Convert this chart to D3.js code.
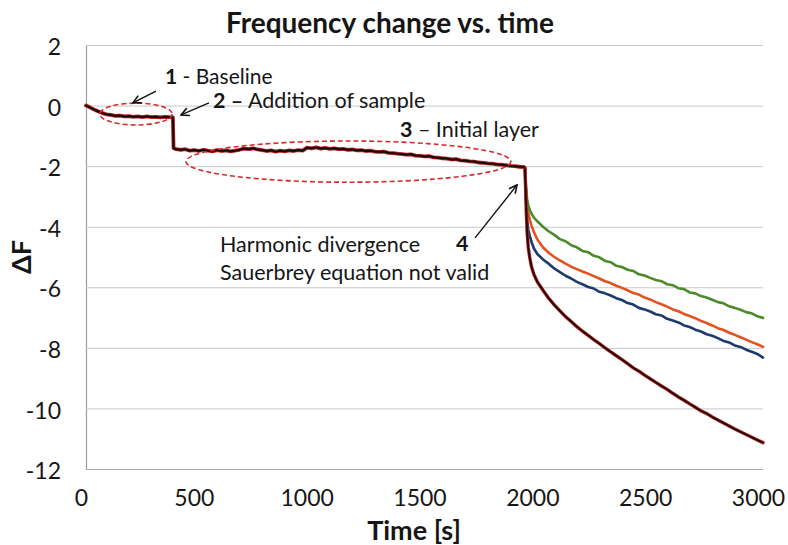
<!DOCTYPE html>
<html>
<head>
<meta charset="utf-8">
<script src="https://cdn.jsdelivr.net/npm/d3@7"></script>
<style>
  body { margin: 0; background: #fff; }
  text { font-family: Lato, "Open Sans", sans-serif; fill: #161616; }
</style>
</head>
<body>
<svg id="chart" width="788" height="545"></svg>
<script>
// Axis ticks
const xTicks = [0, 500, 1000, 1500, 2000, 2500, 3000];
const yTicks = [2, 0, -2, -4, -6, -8, -10, -12];

// Common trace (all harmonics overlap) up to the divergence
const tMix = [0, 15, 30, 50, 70, 90, 110, 130, 150, 170, 190, 210, 230, 250, 270, 290, 310, 330, 350, 370, 385, 388,
  400, 420, 440, 460, 480, 500, 520, 540, 560, 580, 600, 620, 640, 660, 680, 700, 720, 740, 760, 780, 800,
  820, 840, 860, 880, 900, 920, 940, 960, 980, 1000, 1020, 1040, 1060, 1080, 1100, 1120, 1140, 1160, 1180, 1200,
  1220, 1240, 1260, 1280, 1300, 1320, 1340, 1360, 1380, 1400, 1420, 1440, 1460, 1480, 1500, 1520, 1540, 1560, 1580, 1600,
  1620, 1640, 1660, 1680, 1700, 1720, 1740, 1760, 1780, 1800, 1820, 1840, 1860, 1880, 1900, 1920, 1940];
const dfMix = [0, -0.05, -0.11, -0.18, -0.24, -0.29, -0.31, -0.34, -0.33, -0.36, -0.35, -0.37, -0.36, -0.38, -0.36, -0.38, -0.37, -0.39, -0.37, -0.38, -0.39, -1.41,
  -1.44, -1.46, -1.44, -1.49, -1.47, -1.50, -1.46, -1.49, -1.51, -1.47, -1.50, -1.48, -1.51, -1.49, -1.46, -1.42, -1.44, -1.41, -1.45, -1.47, -1.50,
  -1.48, -1.52, -1.49, -1.51, -1.48, -1.50, -1.47, -1.49, -1.39, -1.41, -1.38, -1.42, -1.40, -1.43, -1.41, -1.44, -1.43, -1.46, -1.45, -1.48,
  -1.47, -1.50, -1.49, -1.52, -1.53, -1.52, -1.56, -1.57, -1.59, -1.60, -1.62, -1.61, -1.65, -1.66, -1.68, -1.67, -1.71, -1.72, -1.74, -1.75,
  -1.78, -1.77, -1.81, -1.82, -1.84, -1.85, -1.88, -1.89, -1.91, -1.92, -1.94, -1.95, -1.97, -1.99, -2.00, -2.02, -2.03];

// After the divergence: one trace per harmonic
const tSplit = [1940, 1945, 1948, 1951, 1955, 1960, 1967, 1975, 1985, 2000, 2025, 2050, 2075, 2100, 2125, 2150, 2175, 2200,
  2225, 2250, 2275, 2300, 2325, 2350, 2375, 2400, 2425, 2450, 2475, 2500, 2525, 2550, 2575, 2600, 2625, 2650, 2675, 2700,
  2725, 2750, 2775, 2800, 2825, 2850, 2875, 2900, 2925, 2950, 2975, 3000];
const dfGreen = [-2.03, -2.05, -2.45, -2.80, -3.10, -3.30, -3.45, -3.58, -3.70, -3.82, -4.00, -4.15, -4.27, -4.41, -4.48, -4.61, -4.68, -4.80,
  -4.84, -4.96, -5.01, -5.13, -5.17, -5.29, -5.33, -5.42, -5.46, -5.57, -5.61, -5.69, -5.76, -5.80, -5.90, -5.93, -6.03, -6.06, -6.17, -6.20,
  -6.29, -6.34, -6.41, -6.49, -6.53, -6.63, -6.68, -6.74, -6.82, -6.86, -6.96, -7.01];
const dfOrange = [-2.03, -2.05, -2.60, -3.00, -3.30, -3.55, -3.78, -3.98, -4.18, -4.42, -4.68, -4.86, -5.00, -5.11, -5.22, -5.32, -5.40, -5.48,
  -5.55, -5.63, -5.71, -5.80, -5.86, -5.95, -6.02, -6.10, -6.19, -6.24, -6.34, -6.40, -6.49, -6.56, -6.64, -6.73, -6.79, -6.88, -6.95, -7.02,
  -7.11, -7.18, -7.26, -7.35, -7.41, -7.50, -7.57, -7.65, -7.73, -7.81, -7.88, -7.97];
const dfBlue = [-2.03, -2.05, -2.70, -3.30, -3.80, -4.10, -4.32, -4.52, -4.72, -4.90, -5.08, -5.22, -5.38, -5.50, -5.62, -5.71, -5.82, -5.90,
  -5.99, -6.04, -6.15, -6.20, -6.27, -6.36, -6.42, -6.52, -6.57, -6.68, -6.73, -6.80, -6.89, -6.93, -7.04, -7.10, -7.16, -7.26, -7.31, -7.40,
  -7.46, -7.55, -7.60, -7.68, -7.77, -7.82, -7.92, -7.97, -8.06, -8.13, -8.20, -8.32];
const dfBlack = [-2.03, -2.05, -2.70, -3.50, -4.20, -4.70, -5.05, -5.35, -5.58, -5.82, -6.10, -6.36, -6.58, -6.78, -6.97, -7.13, -7.30, -7.45,
  -7.59, -7.73, -7.86, -8.00, -8.13, -8.26, -8.39, -8.52, -8.66, -8.77, -8.90, -9.02, -9.14, -9.26, -9.37, -9.50, -9.62, -9.73, -9.85, -9.96,
  -10.08, -10.17, -10.28, -10.38, -10.48, -10.58, -10.68, -10.77, -10.86, -10.95, -11.04, -11.13];

const svg = d3.select("#chart");
const x = d3.scaleLinear().domain([0, 3000]).range([86, 763]);
const y = d3.scaleLinear().domain([-12, 2]).range([469, 45]);

// Horizontal grid + left axis
const yAxis = svg.append("g")
  .attr("transform", `translate(${x(0)},0)`)
  .call(d3.axisLeft(y).tickValues(yTicks).tickSize(-(x(3000) - x(0))).tickPadding(25).tickFormat(d => String(d)));
yAxis.select(".domain").attr("stroke", "#9a9ea4").attr("stroke-width", 1.2);
yAxis.selectAll(".tick line").attr("stroke", d => d === -12 ? "#a9adb2" : "#c3c9cd").attr("stroke-width", 1);
yAxis.selectAll(".tick text").attr("font-size", 23).attr("dy", "0.42em").attr("fill", "#161616");

// Bottom axis labels
const xAxis = svg.append("g")
  .attr("transform", `translate(0,${y(-12)})`)
  .call(d3.axisBottom(x).tickValues(xTicks).tickSize(0).tickPadding(21).tickFormat(d => String(d)));
xAxis.select(".domain").remove();
xAxis.selectAll(".tick text").attr("font-size", 23).attr("dx", -5).attr("fill", "#161616");

// Data traces
const line = d3.line().x(d => x(d[0])).y(d => y(d[1]));
const pairs = (ts, vs) => ts.map((t, i) => [t, vs[i]]);

const plot = svg.append("g");
function trace(data, color, width) {
  plot.append("path").datum(data).attr("d", line)
    .attr("fill", "none").attr("stroke", color).attr("stroke-width", width)
    .attr("stroke-linejoin", "round").attr("stroke-linecap", "round");
}
trace(pairs(tSplit, dfOrange), "#e4521e", 2.6);
trace(pairs(tSplit, dfBlue), "#1d3a70", 2.6);
trace(pairs(tSplit, dfGreen), "#4d8a2c", 2.6);
trace(pairs(tSplit, dfBlack), "#b22222", 3.4);
trace(pairs(tSplit, dfBlack), "#1a0606", 1.7);
trace(pairs(tMix, dfMix), "#b22222", 3.8);
trace(pairs(tMix, dfMix), "#1a0606", 2.0);

// Annotations (anchored in data units)
const ann = svg.append("g");
const ellipses = [
  { t: 222, f: -0.28, dt: 160, df: 0.36 },
  { t: 1163, f: -1.85, dt: 720, df: 0.68 }
];
ellipses.forEach(e => {
  ann.append("ellipse")
    .attr("cx", x(e.t)).attr("cy", y(e.f))
    .attr("rx", x(e.t + e.dt) - x(e.t)).attr("ry", y(e.f - e.df) - y(e.f))
    .attr("fill", "none").attr("stroke", "#d42a2a").attr("stroke-width", 1.6)
    .attr("stroke-dasharray", "5,3");
});

svg.append("defs").append("marker")
  .attr("id", "head").attr("viewBox", "0 0 10 10").attr("refX", 9).attr("refY", 5)
  .attr("markerWidth", 10).attr("markerHeight", 10).attr("markerUnits", "userSpaceOnUse")
  .attr("orient", "auto")
  .append("path").attr("d", "M1,1 L9,5 L1,9").attr("fill", "none")
  .attr("stroke", "#111").attr("stroke-width", 1.6);

const arrows = [
  { t0: 310, f0: 0.48, t1: 208, f1: 0.09 },
  { t0: 545, f0: 0.09, t1: 421, f1: -0.31 },
  { t0: 1724, f0: -4.37, t1: 1910, f1: -2.62 }
];
arrows.forEach(a => {
  ann.append("line")
    .attr("x1", x(a.t0)).attr("y1", y(a.f0)).attr("x2", x(a.t1)).attr("y2", y(a.f1))
    .attr("stroke", "#111").attr("stroke-width", 1.4).attr("marker-end", "url(#head)");
});

const labels = [
  { t: 350, f: 0.70, size: 21, parts: [["1", 700], [" - Baseline", 400]] },
  { t: 563, f: -0.07, size: 21.5, parts: [["2 \u2013", 700], [" Addition of sample", 400]] },
  { t: 1391, f: -1.04, size: 21.5, parts: [["3", 700], [" \u2013 Initial layer", 400]] },
  { t: 1640, f: -4.80, size: 21.5, parts: [["4", 700]] },
  { t: 594, f: -4.83, size: 21.5, parts: [["Harmonic divergence", 400]] },
  { t: 594, f: -5.76, size: 21.5, parts: [["Sauerbrey equation not valid", 400]] }
];
labels.forEach(l => {
  const txt = ann.append("text").attr("x", x(l.t)).attr("y", y(l.f)).attr("font-size", l.size);
  l.parts.forEach(p => txt.append("tspan").attr("font-weight", p[1]).text(p[0]));
});

// Titles
svg.append("text").attr("x", 390).attr("y", 33).attr("text-anchor", "middle")
  .attr("font-size", 28).attr("font-weight", 700).text("Frequency change vs. time");
svg.append("text").attr("x", 414).attr("y", 540).attr("text-anchor", "middle")
  .attr("font-size", 27).attr("font-weight", 700).text("Time [s]");
svg.append("text").attr("transform", "translate(31,257) rotate(-90)").attr("text-anchor", "middle")
  .attr("font-size", 27).attr("font-weight", 700).text("\u0394F");
</script>
</body>
</html>
